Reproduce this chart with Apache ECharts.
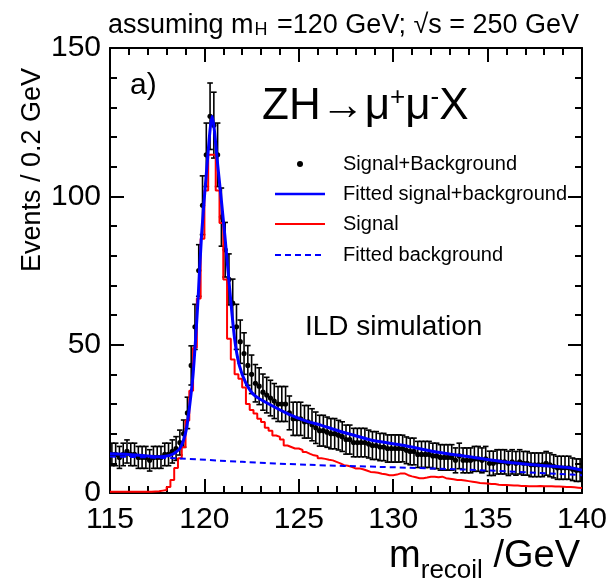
<!DOCTYPE html>
<html>
<head>
<meta charset="utf-8">
<script src="https://cdn.jsdelivr.net/npm/echarts@6/dist/echarts.min.js"></script>
<style>
  html, body { margin: 0; padding: 0; background: #fff; }
  #recoil { width: 612px; height: 581px; }
</style>
</head>
<body>
<div id="recoil"></div>
<script>
var myChart = echarts.init(document.getElementById('recoil'))

// histogram binning: 125 bins of 0.2 GeV from 115 to 140
var binLow = 115
var binWidth = 0.2

// Signal+Background, events per bin (one row = 1 GeV)
var sigBkg = [
  13, 13, 12, 13, 14,
  13, 13, 12, 12, 12,
  11, 12, 12, 12, 13,
  13, 14, 15, 17, 20,
  27, 43, 56, 75, 97,
  114, 127, 124, 114, 93,
  82, 72, 64, 56, 51,
  47, 43, 40, 37, 36,
  34, 33, 32, 31, 30,
  30, 30, 27, 25, 25,
  25, 24, 24, 23, 22,
  21, 21, 20.5, 20, 20,
  19.5, 19, 18, 18, 17,
  17, 17, 17, 16.5, 16,
  16, 15.5, 15.5, 15, 15,
  15, 15, 15, 14.4, 14,
  14, 13, 13, 13, 13,
  12.5, 12.5, 12, 12, 12,
  12, 11, 12.5, 11, 11,
  11, 11.5, 11.5, 11, 11.5,
  10, 10, 10.5, 10.5, 10.5,
  10, 10.5, 10, 10.5, 10,
  10, 9.5, 9.5, 9.5, 9.5,
  10, 9.5, 9, 8.5, 8.5,
  8.5, 8.5, 8, 7.7, 7.7
]

// half length of the error bars
var sigBkgErr = [
  3.8, 3.8, 3.7, 3.8, 3.9,
  3.8, 3.8, 3.7, 3.7, 3.7,
  3.6, 3.7, 3.7, 3.7, 3.8,
  3.8, 3.9, 4.0, 4.2, 4.6,
  5.3, 6.6, 7.6, 8.7, 9.9,
  10.7, 11.2, 11.1, 10.7, 9.8,
  9.2, 8.6, 8.1, 7.6, 7.3,
  7.0, 6.7, 6.5, 6.3, 6.2,
  6.1, 6.0, 6.0, 5.9, 5.9,
  5.9, 5.9, 5.7, 5.6, 5.6,
  5.6, 5.5, 5.5, 5.4, 5.3,
  5.2, 5.2, 5.1, 5.1, 5.1,
  5.0, 5.0, 4.9, 4.9, 4.8,
  4.8, 4.8, 4.8, 4.7, 4.7,
  4.7, 4.6, 4.6, 4.6, 4.6,
  4.6, 4.6, 4.5, 4.5, 4.5,
  4.5, 4.4, 4.4, 4.4, 4.4,
  4.3, 4.3, 4.3, 4.3, 4.3,
  4.3, 4.2, 4.3, 4.2, 4.2,
  4.2, 4.2, 4.2, 4.2, 4.2,
  4.1, 4.1, 4.1, 4.1, 4.1,
  4.1, 4.1, 4.0, 4.1, 4.0,
  4.0, 4.0, 4.0, 4.0, 4.0,
  4.0, 4.0, 3.9, 3.9, 3.9,
  3.9, 3.9, 3.8, 3.8, 3.8
]

// Signal only, events per bin
var signal = [
  0.4, 0.4, 0.4, 0.4, 0.4,
  0.4, 0.4, 0.4, 0.4, 0.4,
  0.4, 0.5, 0.6, 0.8, 1.0,
  2, 4.4, 8.4, 11.7, 15.4,
  24.4, 34.5, 49, 65.6, 85.7,
  102, 114, 114, 102, 91,
  72, 52, 45, 40, 38.5,
  35.6, 30, 28, 26.8, 25,
  23.9, 22, 21, 19.4, 18.9,
  18, 16, 15.5, 15, 15,
  14.5, 13.8, 13.2, 12.7, 12.5,
  11.7, 11.5, 11.2, 11, 10.5,
  10, 9.4, 9.2, 8.8, 8.3,
  8.3, 8, 7.6, 7.1, 7,
  6.8, 6.5, 6.3, 6, 6,
  6.2, 6.6, 6.6, 6, 5.6,
  5.3, 5, 5, 5.2, 5.5,
  5.5, 5.3, 5.5, 5, 4.8,
  4.6, 4.4, 4.4, 4.2, 4,
  3.8, 3.6, 3.4, 3.3, 3.2,
  3, 3, 2.8, 2.7, 2.7,
  2.6, 2.5, 2.5, 2.4, 2.4,
  2.3, 2.3, 2.3, 2.4, 2.3,
  2.3, 2.3, 2.2, 2.2, 2.1,
  2, 2, 1.9, 1.8, 1.7
]

// fitted signal+background curve
var fitSBx = [115, 116, 117, 117.5, 118, 118.2, 118.45, 118.7, 118.88, 119.05, 119.23, 119.4, 119.55,
  119.67, 119.85, 120.12, 120.41, 120.73, 121.08, 121.35, 121.6, 121.85, 122.2, 122.67, 123.56,
  124.43, 125.32, 126.2, 127.08, 127.96, 128.93, 130.52, 132.29, 134.05, 135.81, 137.58, 139.34, 140]
var fitSBy = [13.2, 13, 12.5, 12.2, 12.5, 12.8, 13.6, 15, 17.5, 21.7, 30, 40, 53.5,
  66, 87, 109, 127, 109, 87, 68, 52, 43, 37, 32.8, 29.5,
  26.7, 24.4, 22.8, 21, 19.4, 17.7, 16.1, 13.8, 12.2, 10.5, 9.4, 8.5, 7.7]

// fitted background
var fitBx = [115, 118.5, 122, 125.5, 129.3, 134.6, 140]
var fitBy = [12.3, 11.7, 10.5, 9.5, 8.8, 7.7, 6]

var pointData = sigBkg.map(function(v, i) {
  return [binLow + binWidth * (i + 0.5), v, sigBkgErr[i]]
})
var signalData = signal.map(function(v, i) {
  return [binLow + binWidth * i, v]
})
signalData.push([binLow + binWidth * signal.length, signal[signal.length - 1]])
var fitSBData = fitSBx.map(function(x, i) { return [x, fitSBy[i]] })
var fitBData = fitBx.map(function(x, i) { return [x, fitBy[i]] })

var font = 'Liberation Sans'

function frameAxis(extra) {
  var ax = {
    type: 'value',
    axisLine: { show: true, onZero: false, lineStyle: { color: '#000', width: 2 } },
    axisTick: { show: true, inside: true, length: 14, lineStyle: { color: '#000', width: 2 } },
    minorTick: { show: true, splitNumber: 5, length: 7, lineStyle: { color: '#000', width: 2 } },
    splitLine: { show: false },
    axisLabel: { show: false }
  }
  for (var k in extra) ax[k] = extra[k]
  return ax
}

var tickLabel = { show: true, color: '#000', fontFamily: font, fontSize: 30 }

var option = {
  backgroundColor: '#fff',
  animation: false,
  grid: { left: 110, right: 30, top: 48, bottom: 88 },
  xAxis: [
    frameAxis({ min: 115, max: 140, interval: 5, position: 'bottom',
      axisLabel: Object.assign({ margin: 12 }, tickLabel) }),
    frameAxis({ min: 115, max: 140, interval: 5, position: 'top' })
  ],
  yAxis: [
    frameAxis({ min: 0, max: 150, interval: 50, position: 'left',
      axisLabel: Object.assign({ margin: 9 }, tickLabel) }),
    frameAxis({ min: 0, max: 150, interval: 50, position: 'right' })
  ],
  series: [
    {
      name: 'Signal+Background',
      type: 'custom',
      clip: true,
      z: 2,
      data: pointData,
      encode: { x: 0, y: 1 },
      renderItem: function(params, api) {
        var x = api.value(0)
        var y = api.value(1)
        var e = api.value(2)
        var c = api.coord([x, y])
        var hi = api.coord([x, y + e])[1]
        var lo = api.coord([x, y - e])[1]
        var st = { stroke: '#000', lineWidth: 1.6 }
        return {
          type: 'group',
          children: [
            { type: 'line', shape: { x1: c[0], y1: hi, x2: c[0], y2: lo }, style: st },
            { type: 'line', shape: { x1: c[0] - 2.8, y1: hi, x2: c[0] + 2.8, y2: hi }, style: st },
            { type: 'line', shape: { x1: c[0] - 2.8, y1: lo, x2: c[0] + 2.8, y2: lo }, style: st },
            { type: 'circle', shape: { cx: c[0], cy: c[1], r: 2.6 }, style: { fill: '#000' } }
          ]
        }
      }
    },
    {
      name: 'Signal',
      type: 'line',
      step: 'end',
      z: 3,
      symbol: 'none',
      data: signalData,
      lineStyle: { color: '#ff0000', width: 2 }
    },
    {
      name: 'Fitted background',
      type: 'line',
      z: 4,
      symbol: 'none',
      smooth: 0.3,
      data: fitBData,
      lineStyle: { color: '#0000ff', width: 2, type: [6, 4] }
    },
    {
      name: 'Fitted signal+background',
      type: 'line',
      z: 5,
      symbol: 'none',
      smooth: 0.25,
      data: fitSBData,
      lineStyle: { color: '#0000ff', width: 3 }
    }
  ],
  graphic: [
    {
      type: 'text', x: 108, y: 12,
      style: {
        text: '{m|assuming m}{s|H}{m| =120 GeV; \u221As = 250 GeV}',
        fill: '#000',
        rich: {
          m: { fontFamily: font, fontSize: 27, lineHeight: 27, verticalAlign: 'top', fill: '#000' },
          s: { fontFamily: font, fontSize: 18, lineHeight: 18, verticalAlign: 'top', padding: [9, 2, 0, 1], fill: '#000' }
        }
      }
    },
    {
      type: 'text', x: 33, y: 68, rotation: Math.PI / 2,
      style: { text: 'Events / 0.2 GeV', fontFamily: font, fontSize: 27, fill: '#000', align: 'right', verticalAlign: 'middle' }
    },
    {
      type: 'text', x: 580, y: 538,
      style: {
        text: '{m|m}{s|recoil}{m| /GeV}',
        align: 'right',
        fill: '#000',
        rich: {
          m: { fontFamily: font, fontSize: 38, lineHeight: 38, verticalAlign: 'top', fill: '#000' },
          s: { fontFamily: font, fontSize: 26, lineHeight: 26, verticalAlign: 'top', padding: [20, 0, 0, 0], fill: '#000' }
        }
      }
    },
    {
      type: 'text', x: 130, y: 86,
      style: { text: 'a)', fontFamily: font, fontSize: 30, fill: '#000', verticalAlign: 'middle' }
    },
    {
      type: 'text', x: 262, y: 85,
      style: {
        text: '{m|ZH\u2192\u03BC}{p|+}{m|\u03BC}{p|-}{m|X}',
        fill: '#000',
        rich: {
          m: { fontFamily: font, fontSize: 44, lineHeight: 44, verticalAlign: 'top', fill: '#000' },
          p: { fontFamily: font, fontSize: 26, lineHeight: 26, verticalAlign: 'top', fill: '#000' }
        }
      }
    },
    { type: 'circle', shape: { cx: 300, cy: 164, r: 3 }, style: { fill: '#000' } },
    { type: 'line', shape: { x1: 275, y1: 194, x2: 325, y2: 194 }, style: { stroke: '#0000ff', lineWidth: 2.5 } },
    { type: 'line', shape: { x1: 275, y1: 224, x2: 325, y2: 224 }, style: { stroke: '#ff0000', lineWidth: 2 } },
    { type: 'line', shape: { x1: 275, y1: 255, x2: 325, y2: 255 }, style: { stroke: '#0000ff', lineWidth: 2, lineDash: [6, 4] } },
    { type: 'text', x: 343, y: 164, style: { text: 'Signal+Background', fontFamily: font, fontSize: 20, fill: '#000', verticalAlign: 'middle' } },
    { type: 'text', x: 343, y: 194, style: { text: 'Fitted signal+background', fontFamily: font, fontSize: 20, fill: '#000', verticalAlign: 'middle' } },
    { type: 'text', x: 343, y: 224, style: { text: 'Signal', fontFamily: font, fontSize: 20, fill: '#000', verticalAlign: 'middle' } },
    { type: 'text', x: 343, y: 255, style: { text: 'Fitted background', fontFamily: font, fontSize: 20, fill: '#000', verticalAlign: 'middle' } },
    { type: 'text', x: 305, y: 327, style: { text: 'ILD simulation', fontFamily: font, fontSize: 28, fill: '#000', verticalAlign: 'middle' } }
  ]
}

myChart.setOption(option)
</script>
</body>
</html>
